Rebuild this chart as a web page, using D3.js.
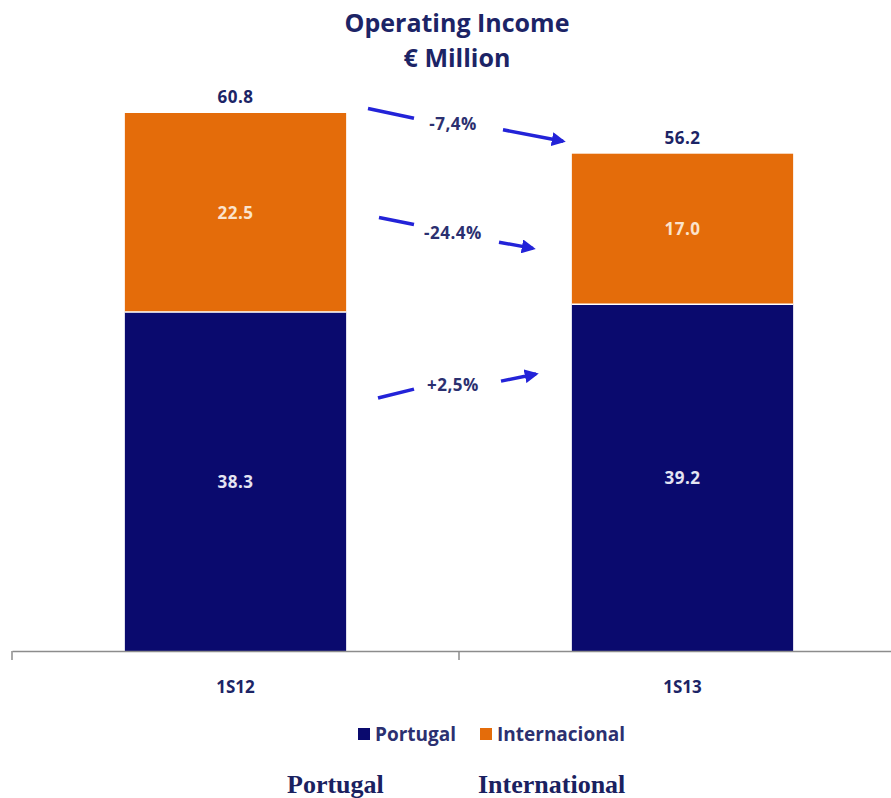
<!DOCTYPE html>
<html>
<head>
<meta charset="utf-8">
<script src="https://cdn.jsdelivr.net/npm/d3@7"></script>
<style>
  body { margin: 0; background: #ffffff; }
  svg { display: block; }
</style>
</head>
<body>
<div class="chart"></div>
<script>
// Operating Income, € Million - stacked bars

var categories = ["1S12", "1S13"];
var portugal = [38.3, 39.2];
var internacional = [22.5, 17.0];
var totals = [60.8, 56.2];
var changes = ["-7,4%", "-24.4%", "+2,5%"];
// arrow rows, y in data units: [left start, left end, right start, right end]
var arrowRows = [[61.3, 60.2, 58.9, 57.6], [49.0, 48.2, 46.2, 45.5], [28.6, 29.6, 30.5, 31.3]];

var svgWidth = 891;
var svgHeight = 798;

var navy = "#0a0a6e";
var orange = "#e46c0a";
var textNavy = "#1c2466";
var arrowBlue = "#2323d8";

var svg = d3.select(".chart")
    .append("svg")
    .attr("width", svgWidth)
    .attr("height", svgHeight);

var chart = svg.append("g");

var xBand = d3.scaleBand()
    .domain(categories)
    .range([12, 906])
    .padding(0);

var barWidth = xBand.bandwidth() * 0.495;

var yLinearScale = d3.scaleLinear()
    .domain([0, 60.8])
    .range([651, 113]);

function barX(c) {
    return xBand(c) + (xBand.bandwidth() - barWidth) / 2;
}

var labelFont = "'Open Sans', sans-serif";

// title
svg.append("text")
    .attr("x", 457).attr("y", 32)
    .attr("text-anchor", "middle")
    .attr("font-family", labelFont)
    .attr("font-weight", "bold")
    .attr("font-size", "25px")
    .attr("fill", textNavy)
    .text("Operating Income");

svg.append("text")
    .attr("x", 457).attr("y", 67)
    .attr("text-anchor", "middle")
    .attr("font-family", labelFont)
    .attr("font-weight", "bold")
    .attr("font-size", "25px")
    .attr("fill", textNavy)
    .text("€ Million");

// Portugal bars
chart.selectAll(".bar-pt")
    .data(categories)
    .enter()
    .append("rect")
    .attr("class", "bar-pt")
    .attr("x", function(d) { return barX(d); })
    .attr("y", function(d, i) { return yLinearScale(portugal[i]); })
    .attr("width", barWidth)
    .attr("height", function(d, i) { return yLinearScale(0) - yLinearScale(portugal[i]); })
    .attr("fill", navy);

// Internacional bars
chart.selectAll(".bar-int")
    .data(categories)
    .enter()
    .append("rect")
    .attr("class", "bar-int")
    .attr("x", function(d) { return barX(d); })
    .attr("y", function(d, i) { return yLinearScale(portugal[i] + internacional[i]); })
    .attr("width", barWidth)
    .attr("height", function(d, i) { return yLinearScale(portugal[i]) - yLinearScale(portugal[i] + internacional[i]); })
    .attr("fill", orange);

// thin separator between segments
chart.selectAll(".sep")
    .data(categories)
    .enter()
    .append("line")
    .attr("x1", function(d) { return barX(d); })
    .attr("x2", function(d) { return barX(d) + barWidth; })
    .attr("y1", function(d, i) { return yLinearScale(portugal[i]); })
    .attr("y2", function(d, i) { return yLinearScale(portugal[i]); })
    .attr("stroke", "#ffffff")
    .attr("stroke-width", 1.5);

// segment value labels
chart.selectAll(".lbl-pt")
    .data(categories)
    .enter()
    .append("text")
    .attr("x", function(d) { return xBand(d) + xBand.bandwidth() / 2; })
    .attr("y", function(d, i) { return yLinearScale(portugal[i] / 2) + 6; })
    .attr("text-anchor", "middle")
    .attr("font-family", labelFont)
    .attr("font-weight", "bold")
    .attr("font-size", "17px")
    .attr("letter-spacing", "0.5px")
    .attr("fill", "#e4e4f2")
    .text(function(d, i) { return portugal[i].toFixed(1); });

chart.selectAll(".lbl-int")
    .data(categories)
    .enter()
    .append("text")
    .attr("x", function(d) { return xBand(d) + xBand.bandwidth() / 2; })
    .attr("y", function(d, i) { return yLinearScale(portugal[i] + internacional[i] / 2) + 6; })
    .attr("text-anchor", "middle")
    .attr("font-family", labelFont)
    .attr("font-weight", "bold")
    .attr("font-size", "17px")
    .attr("letter-spacing", "0.5px")
    .attr("fill", "#fbe3cc")
    .text(function(d, i) { return internacional[i].toFixed(1); });

// totals
chart.selectAll(".lbl-tot")
    .data(categories)
    .enter()
    .append("text")
    .attr("x", function(d) { return xBand(d) + xBand.bandwidth() / 2; })
    .attr("y", function(d, i) { return yLinearScale(totals[i]) - 10; })
    .attr("text-anchor", "middle")
    .attr("font-family", labelFont)
    .attr("font-weight", "bold")
    .attr("font-size", "17px")
    .attr("letter-spacing", "0.5px")
    .attr("fill", textNavy)
    .text(function(d, i) { return totals[i].toFixed(1); });

// x axis
var bottomAxis = d3.axisBottom(xBand).tickSize(0).tickPadding(30);

var xAxis = chart.append("g")
    .attr("class", "x-axis")
    .attr("transform", "translate(0," + yLinearScale(0) + ")")
    .call(bottomAxis);

xAxis.select(".domain").attr("stroke", "#8c8c8c").attr("stroke-width", 1.5);
xAxis.selectAll("text")
    .attr("font-family", labelFont)
    .attr("font-weight", "bold")
    .attr("font-size", "17px")
    .attr("fill", textNavy);

// boundary ticks
xAxis.selectAll(".btick")
    .data(categories)
    .enter()
    .append("line")
    .attr("x1", function(d) { return xBand(d); })
    .attr("x2", function(d) { return xBand(d); })
    .attr("y1", 0).attr("y2", 9)
    .attr("stroke", "#8c8c8c")
    .attr("stroke-width", 1.5);

// change arrows
var defs = svg.append("defs");
defs.append("marker")
    .attr("id", "arrowhead")
    .attr("viewBox", "0 0 10 10")
    .attr("refX", 8).attr("refY", 5)
    .attr("markerWidth", 4).attr("markerHeight", 4)
    .attr("orient", "auto")
    .append("path")
    .attr("d", "M0,0 L10,5 L0,10 z")
    .attr("fill", arrowBlue);

var midX = (barX(categories[0]) + barWidth + barX(categories[1])) / 2;
var leftSeg = [[-91, -45], [-80, -45], [-81, -45]];
var rightSeg = [[44, 104], [40, 74], [42, 77]];

var arrows = chart.append("g");

arrowRows.forEach(function(r, i) {
    arrows.append("line")
        .attr("x1", midX + leftSeg[i][0]).attr("x2", midX + leftSeg[i][1])
        .attr("y1", yLinearScale(r[0])).attr("y2", yLinearScale(r[1]))
        .attr("stroke", arrowBlue)
        .attr("stroke-width", 3.5);

    arrows.append("line")
        .attr("x1", midX + rightSeg[i][0]).attr("x2", midX + rightSeg[i][1])
        .attr("y1", yLinearScale(r[2])).attr("y2", yLinearScale(r[3]))
        .attr("stroke", arrowBlue)
        .attr("stroke-width", 3.5)
        .attr("marker-end", "url(#arrowhead)");

    arrows.append("text")
        .attr("x", midX - 6)
        .attr("y", yLinearScale((r[1] + r[2]) / 2) + 6)
        .attr("text-anchor", "middle")
        .attr("font-family", labelFont)
        .attr("font-weight", "bold")
        .attr("font-size", "17px")
        .attr("letter-spacing", "0.5px")
        .attr("fill", "#2b3070")
        .text(changes[i]);
});

// legend
var legend = svg.append("g").attr("transform", "translate(0,738)");
var legendItems = [["Portugal", navy, 358], ["Internacional", orange, 480]];

legendItems.forEach(function(item) {
    legend.append("rect")
        .attr("x", item[2]).attr("y", -10)
        .attr("width", 12).attr("height", 12)
        .attr("fill", item[1]);
    legend.append("text")
        .attr("x", item[2] + 17).attr("y", 3)
        .attr("font-family", labelFont)
        .attr("font-weight", "bold")
        .attr("font-size", "19px")
        .attr("fill", "#2b3070")
        .text(item[0]);
});

// bottom caption
svg.append("text")
    .attr("x", 287).attr("y", 793)
    .attr("font-family", "'Liberation Serif', serif")
    .attr("font-weight", "bold")
    .attr("font-size", "26px")
    .attr("fill", "#1a2160")
    .text("Portugal");

svg.append("text")
    .attr("x", 478).attr("y", 793)
    .attr("font-family", "'Liberation Serif', serif")
    .attr("font-weight", "bold")
    .attr("font-size", "26px")
    .attr("fill", "#1a2160")
    .text("International");
</script>
</body>
</html>
